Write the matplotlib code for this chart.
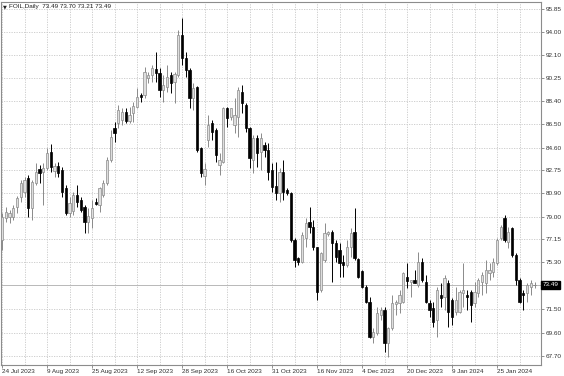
import matplotlib
matplotlib.use("Agg")
import matplotlib.pyplot as plt
import matplotlib.transforms as mtransforms
import numpy as np

symbol_title = "FOIL,Daily  73.49 73.70 73.21 73.49"
last_price = 73.49

opens = [77.11, 78.89, 78.97, 78.97, 79.78, 80.59, 81.00, 82.13, 79.70, 81.73,
         82.86, 82.62, 82.95, 84.24, 82.70, 83.11, 82.78, 81.32, 79.30, 79.46,
         80.76, 80.35, 79.78, 78.57, 78.89, 80.19, 79.94, 80.76, 81.73, 83.59,
         86.19, 86.59, 86.84, 87.49, 86.76, 87.41, 87.89, 88.87, 88.87, 90.24,
         90.49, 90.97, 90.65, 89.27, 89.51, 90.49, 89.92, 90.49, 93.73, 91.87,
         90.89, 88.62, 89.51, 84.57, 82.30, 85.22, 86.59, 86.03, 83.19, 83.43,
         87.81, 87.08, 86.43, 87.08, 89.11, 88.05, 86.19, 83.59, 85.38, 84.24,
         84.81, 84.40, 82.78, 81.49, 80.92, 82.62, 81.16, 80.92, 77.11, 75.65,
         75.32, 77.27, 78.57, 78.16, 76.54, 73.05, 75.48, 77.59, 77.75, 76.86,
         76.29, 75.32, 75.08, 76.54, 77.75, 75.57, 74.59, 73.29, 72.08, 69.24,
         69.56, 71.02, 71.43, 68.75, 69.97, 71.92, 72.00, 72.08, 74.11, 73.70,
         73.86, 73.46, 75.32, 73.70, 72.00, 71.59, 70.62, 72.65, 72.48, 73.62,
         72.24, 71.27, 71.27, 72.81, 72.65, 72.89, 72.00, 72.81, 73.70, 73.62,
         74.43, 74.51, 75.24, 77.27, 78.89, 76.94, 78.08, 75.89, 73.86, 72.81,
         72.81, 73.29, 73.49]
highs = [79.30, 79.78, 79.54, 79.94, 80.67, 81.97, 82.22, 82.38, 81.97, 83.35,
         83.19, 83.35, 84.57, 84.89, 83.35, 83.43, 83.03, 81.57, 80.59, 81.00,
         81.57, 80.59, 79.94, 79.70, 80.35, 80.51, 81.40, 81.97, 83.84, 86.03,
         86.68, 88.05, 87.81, 87.81, 87.89, 88.30, 89.43, 89.03, 91.14, 90.73,
         91.30, 92.35, 91.06, 90.49, 91.30, 90.73, 90.73, 94.14, 95.11, 92.35,
         91.06, 89.84, 89.60, 84.65, 83.35, 87.24, 86.84, 86.19, 84.16, 87.89,
         87.89, 87.81, 88.62, 89.51, 89.68, 88.22, 86.27, 85.62, 85.62, 85.78,
         85.05, 84.97, 83.35, 83.43, 82.95, 83.59, 81.32, 81.00, 77.27, 75.73,
         77.75, 78.89, 79.78, 78.73, 76.54, 76.13, 78.48, 77.84, 77.92, 77.11,
         76.86, 75.89, 77.11, 78.08, 79.70, 75.65, 74.67, 73.46, 72.48, 69.97,
         71.67, 71.67, 71.67, 70.05, 72.65, 72.24, 73.05, 74.51, 75.24, 73.86,
         74.67, 76.13, 75.65, 74.27, 72.24, 72.08, 73.29, 73.62, 74.27, 73.86,
         72.40, 73.29, 73.05, 75.24, 73.05, 73.05, 73.70, 74.02, 74.51, 75.48,
         75.24, 75.65, 77.27, 78.32, 79.13, 78.16, 78.16, 76.05, 74.02, 73.05,
         73.62, 73.86, 73.70]
lows = [76.29, 78.57, 78.48, 78.73, 79.30, 80.19, 80.59, 78.97, 78.73, 81.57,
        81.73, 79.94, 82.78, 82.62, 82.22, 82.22, 80.59, 79.13, 78.97, 79.13,
        79.78, 79.38, 77.67, 77.67, 78.08, 79.94, 79.38, 80.59, 81.57, 83.43,
        85.05, 86.19, 86.43, 86.59, 86.59, 86.68, 87.81, 88.30, 88.62, 89.84,
        89.92, 89.92, 88.70, 88.30, 89.11, 89.03, 88.22, 90.33, 91.30, 90.33,
        87.81, 87.65, 84.24, 82.22, 81.57, 84.65, 85.22, 83.43, 82.38, 83.35,
        86.27, 86.84, 85.78, 85.46, 87.41, 85.86, 82.95, 82.54, 83.03, 82.78,
        83.84, 81.97, 81.00, 80.35, 80.19, 80.35, 80.76, 76.94, 74.92, 75.08,
        75.24, 76.54, 77.67, 76.29, 72.24, 72.89, 75.32, 77.43, 73.70, 75.32,
        74.11, 74.11, 74.92, 75.73, 75.48, 74.02, 73.21, 72.00, 69.16, 68.75,
        69.40, 70.62, 68.02, 67.62, 69.81, 71.02, 71.19, 72.00, 73.21, 72.48,
        73.62, 73.29, 73.70, 72.00, 70.86, 70.05, 69.24, 71.67, 71.43, 70.05,
        70.21, 71.02, 71.19, 71.67, 71.43, 70.46, 71.67, 72.48, 72.65, 72.81,
        73.86, 74.11, 75.08, 77.11, 76.94, 76.46, 75.73, 73.46, 72.00, 71.43,
        72.08, 72.65, 73.21]
closes = [78.97, 79.38, 79.30, 79.70, 80.51, 81.73, 81.97, 79.70, 81.81, 82.62,
          82.54, 82.95, 84.16, 83.03, 83.11, 82.54, 81.00, 79.30, 80.11, 80.76,
          80.19, 79.54, 78.57, 79.05, 79.70, 80.03, 81.32, 81.73, 83.59, 85.46,
          85.78, 87.65, 87.49, 86.76, 87.24, 87.97, 88.70, 88.70, 90.73, 90.49,
          91.06, 90.65, 89.27, 89.68, 90.33, 89.84, 90.57, 93.73, 91.87, 90.89,
          88.62, 89.43, 84.40, 82.54, 82.86, 86.43, 85.86, 84.00, 83.59, 87.81,
          87.00, 87.81, 87.24, 89.27, 88.22, 86.19, 83.76, 85.38, 84.16, 85.38,
          84.40, 82.62, 81.40, 80.92, 82.62, 81.00, 80.92, 77.11, 75.48, 75.32,
          77.51, 78.48, 78.16, 76.54, 72.89, 76.05, 77.67, 77.75, 76.86, 75.73,
          75.24, 75.08, 76.54, 77.67, 75.65, 74.11, 73.29, 72.08, 69.24, 69.64,
          71.19, 71.43, 68.75, 69.97, 72.00, 72.08, 72.65, 74.43, 73.78, 73.86,
          73.62, 75.32, 73.86, 72.08, 71.43, 70.46, 73.05, 72.40, 74.02, 71.27,
          70.86, 72.24, 72.89, 73.05, 72.48, 71.83, 72.89, 73.86, 74.27, 74.67,
          74.67, 75.32, 77.11, 78.16, 77.11, 77.75, 75.89, 73.86, 72.08, 72.65,
          73.46, 73.62, 73.49]

date_labels = ["24 Jul 2023", "9 Aug 2023", "25 Aug 2023", "12 Sep 2023",
               "28 Sep 2023", "16 Oct 2023", "31 Oct 2023", "16 Nov 2023",
               "4 Dec 2023", "20 Dec 2023", "9 Jan 2024", "25 Jan 2024"]
bars_per_label = 12
price_ticks = [95.85, 94.00, 92.10, 90.25, 88.40, 86.50, 84.60, 82.75,
               80.90, 79.00, 77.15, 75.30, 71.50, 69.60, 67.70]
price_tick_labels = ["95.85", "94.00", "92.10", "90.25", "88.40", "86.50",
                     "84.60", "82.75", "80.90", "79.00", "77.15", "75.30",
                     "71.50", "69.60", "67.70"]

FONT = ["Liberation Sans", "DejaVu Sans"]
plt.rcParams["font.family"] = FONT

W, H = 564, 376
fig = plt.figure(figsize=(W / 100, H / 100), dpi=100)
fig.patch.set_facecolor("white")
ax = fig.add_axes([0.5 / W, 11 / H, 540 / W, 363 / H])
ax.set_facecolor("white")

o = np.array(opens); h = np.array(highs); l = np.array(lows); c = np.array(closes)
n = len(o)
x = np.arange(n)
bull = c >= o

grid_col = "#c8c8c8"
# grid
ax.set_yticks(price_ticks)
ax.set_yticklabels(price_tick_labels)
ax.set_xticks(np.arange(0, n, bars_per_label))
ax.set_xticklabels(date_labels, ha="left")
ax.set_xticks(np.arange(bars_per_label // 2, n, bars_per_label), minor=True)
ax.grid(True, which="major", axis="both", color=grid_col, linestyle=(0, (1.5, 1.5)), linewidth=0.6)
ax.grid(True, which="minor", axis="x", color=grid_col, linestyle=(0, (1.5, 1.5)), linewidth=0.6)
ax.set_axisbelow(True)

# current price line
ax.axhline(last_price, color="#b8b8b8", linewidth=0.7, zorder=1)

bull_edge = "#8a8a8a"
bull_face = "#dedede"
bw = 0.62
# wicks
ax.vlines(x[bull], l[bull], h[bull], color=bull_edge, linewidth=0.7, zorder=2)
ax.vlines(x[~bull], l[~bull], h[~bull], color="black", linewidth=0.7, zorder=2)
# bodies
ax.bar(x[bull], (c - o)[bull], bottom=o[bull], width=bw, facecolor=bull_face,
       edgecolor=bull_edge, linewidth=0.5, zorder=3)
ax.bar(x[~bull], (c - o)[~bull], bottom=o[~bull], width=bw, facecolor="black",
       edgecolor="black", linewidth=0.5, zorder=3)
doji = np.isclose(o, c)
ax.hlines(o[doji], x[doji] - bw / 2, x[doji] + bw / 2, color=bull_edge, linewidth=0.7, zorder=4)

px_per_bar = 3.75
ax.set_xlim(-1.5 / px_per_bar, -1.5 / px_per_bar + 540 / px_per_bar)
ppu = 12.33
ax.set_ylim(67.70 - 9 / ppu, 67.70 + 354 / ppu)

ax.yaxis.tick_right()
ax.tick_params(axis="y", which="major", length=2, width=0.6, color="#808080",
               labelsize=4.6, labelcolor="#303030", pad=1.5)
ax.tick_params(axis="x", which="major", length=2, width=0.6, color="#808080",
               labelsize=4.6, labelcolor="#303030", pad=1.2)
ax.tick_params(axis="x", which="minor", length=0)
for s in ax.spines.values():
    s.set_color("#8c8c8c")
    s.set_linewidth(0.8)

# current price tag
trans = mtransforms.blended_transform_factory(ax.transAxes, ax.transData)
ax.text(1.0 + 2.5 / 540, last_price, f"{last_price:.2f}", transform=trans,
        ha="left", va="center", fontsize=4.6, color="white",
        bbox=dict(boxstyle="square,pad=0.25", facecolor="black", edgecolor="black"),
        zorder=10, clip_on=False)

fig.text(3 / W, 1 - 6.5 / H, "\u25bc", fontsize=3.6, color="#202020", va="center", ha="left",
         family=["DejaVu Sans"])
fig.text(9 / W, 1 - 6.5 / H, symbol_title, fontsize=4.6, color="#202020", va="center", ha="left")

fig.savefig("out.png", dpi=100, facecolor="white")
